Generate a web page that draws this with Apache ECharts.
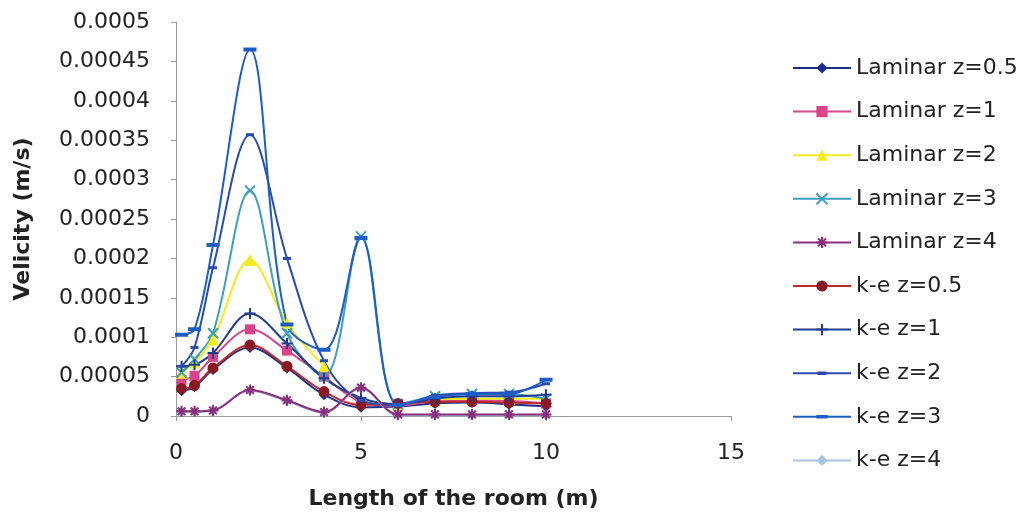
<!DOCTYPE html>
<html>
<head>
<meta charset="utf-8">
<script src="https://cdn.jsdelivr.net/npm/echarts@6/dist/echarts.min.js"></script>
<style>
html,body{margin:0;padding:0;background:#fff;}
#chart{width:1028px;height:519px;}
</style>
</head>
<body>
<div id="chart"></div>
<script>
// Positions along the room (m)
const xs = [0.15, 0.5, 1, 2, 3, 4, 5, 6, 7, 8, 9, 10];
const seriesNames = ['Laminar z=0.5','Laminar z=1','Laminar z=2','Laminar z=3','Laminar z=4','k-e z=0.5','k-e z=1','k-e z=2','k-e z=3','k-e z=4'];
// Velocities (m/s)
const laminarZ05 = [0.000032,0.000037,0.000059,0.000087,0.000061,0.000027,0.000011,0.000012,0.000016,0.000017,0.000015,0.000012];
const laminarZ1  = [0.000046,0.000051,0.000075,0.000110,0.000083,0.000050,0.000018,0.000013,0.000019,0.000020,0.000019,0.000016];
const laminarZ2  = [0.000055,0.000068,0.000097,0.000198,0.000118,0.000063,0.000020,0.000015,0.000021,0.000022,0.000022,0.000022];
const laminarZ3  = [0.000055,0.000072,0.000105,0.000286,0.000105,0.000050,0.000228,0.000015,0.000025,0.000028,0.000028,0.000022];
const laminarZ4  = [0.000006,0.000006,0.000007,0.000033,0.000020,0.000005,0.000036,0.000002,0.000002,0.000002,0.000002,0.000002];
const keZ05      = [0.000035,0.000039,0.000061,0.000090,0.000063,0.000031,0.000014,0.000016,0.000018,0.000018,0.000017,0.000016];
const keZ1       = [0.000063,0.000065,0.000080,0.000130,0.000092,0.000048,0.000023,0.000015,0.000022,0.000025,0.000025,0.000027];
const keZ2       = [0.000063,0.000087,0.000188,0.000357,0.000200,0.000070,0.000020,0.000014,0.000026,0.000029,0.000030,0.000041];
const keZ3       = [0.000103,0.000110,0.000217,0.000465,0.000116,0.000084,0.000226,0.000014,0.000024,0.000028,0.000028,0.000046];
const keZ4       = [0.000005,0.000005,0.000007,0.000032,0.000019,0.000004,0.000035,0.000001,0.000001,0.000001,0.000001,0.000001];
const xTicks = [0, 5, 10, 15];

const allValues = [laminarZ05,laminarZ1,laminarZ2,laminarZ3,laminarZ4,keZ05,keZ1,keZ2,keZ3,keZ4];
// dash markers drawn inside a square box (zero-area corner points fix the box)
const shortDash = 'path://M0,0L0.001,0L0,0.001Z M10,10L9.999,10L10,9.999Z M1,3.5L9,3.5L9,6.5L1,6.5Z';
const longDash  = 'path://M0,0L0.001,0L0,0.001Z M13,13L12.999,13L13,12.999Z M0,4.5L13,4.5L13,8.5L0,8.5Z';
const styles = [
  {color:'#1b2f86', symbol:'diamond', size:11},
  {color:'#d9448a', symbol:'rect', size:10},
  {color:'#f2ec1c', symbol:'triangle', size:12},
  {color:'#3d9fc0', symbol:'path://M0,0L10,10M10,0L0,10', size:10, stroke:true},
  {color:'#8a2f7e', symbol:'path://M5,0L5,10M0,5L10,5M1.5,1.5L8.5,8.5M8.5,1.5L1.5,8.5', size:11, stroke:true},
  {color:'#c0282e', symbol:'circle', size:11, fill:'#8a1a22'},
  {color:'#1f3d8c', symbol:'path://M5,0L5,10M0,5L10,5', size:11, stroke:true},
  {color:'#2a4ab0', symbol:shortDash, size:10},
  {color:'#1e5cc6', symbol:longDash, size:13},
  {color:'#a7c6e6', symbol:'diamond', size:10}
];

const series = seriesNames.map((name,i)=>{
  const s = styles[i];
  return {
    name: name,
    type: 'line',
    smooth: 0.35,
    data: xs.map((x,j)=>[x, allValues[i][j]]),
    symbol: s.symbol,
    symbolSize: s.size,
    lineStyle: {color: s.color, width: 2},
    itemStyle: s.stroke ? {color: 'none', borderColor: s.color, borderWidth: 2}
                        : {color: s.fill || s.color, borderWidth: 0},
    z: 2 + (i===4 ? 1 : 0)
  };
});

const chart = echarts.init(document.getElementById('chart'), null, {renderer:'canvas'});
chart.setOption({
  backgroundColor: '#ffffff',
  animation: false,
  grid: {left: 176, right: 297, top: 22, bottom: 103, containLabel: false},
  legend: {
    orient: 'vertical',
    left: 787,
    top: 52,
    itemWidth: 58,
    itemHeight: 14,
    itemGap: 21.6,
    textStyle: {fontFamily: 'DejaVu Sans', fontSize: 22, color: '#222'},
    data: seriesNames
  },
  xAxis: {
    type: 'value',
    min: 0, max: 15, interval: 5,
    name: 'Length of the room (m)',
    nameLocation: 'middle',
    nameGap: 72,
    nameTextStyle: {fontFamily: 'DejaVu Sans', fontSize: 22, fontWeight: 'bold', color: '#222'},
    axisLine: {lineStyle: {color: '#9a9a9a', width: 1}},
    axisTick: {show: true, length: 5, lineStyle: {color: '#9a9a9a'}},
    axisLabel: {margin: 26, fontFamily: 'DejaVu Sans', fontSize: 22, color: '#222',
      formatter: v => xTicks.includes(v) ? String(v) : ''},
    splitLine: {show: false}
  },
  yAxis: {
    type: 'value',
    min: 0, max: 0.0005, interval: 0.00005,
    name: 'Velicity (m/s)',
    nameLocation: 'middle',
    nameGap: 142,
    nameTextStyle: {fontFamily: 'DejaVu Sans', fontSize: 22, fontWeight: 'bold', color: '#222'},
    axisLine: {show: true, lineStyle: {color: '#9a9a9a', width: 1}},
    axisTick: {show: true, length: 5, lineStyle: {color: '#9a9a9a'}},
    axisLabel: {margin: 26, fontFamily: 'DejaVu Sans', fontSize: 22, color: '#222',
      formatter: v => v === 0 ? '0' : String(parseFloat(v.toPrecision(6)))},
    splitLine: {show: false}
  },
  series: series
});
</script>
</body>
</html>
